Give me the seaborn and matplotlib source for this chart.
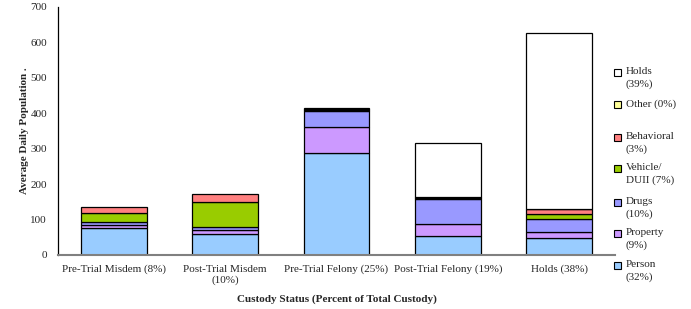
import numpy as np
import pandas as pd
import seaborn as sns
import matplotlib.pyplot as plt
from matplotlib.patches import Rectangle

sns.set_style('white')
plt.rcParams['font.family'] = ['Liberation Serif', 'DejaVu Serif']

# data
categories = ['Pre-Trial Misdem (8%)', 'Post-Trial Misdem\n(10%)', 'Pre-Trial Felony (25%)',
              'Post-Trial Felony (19%)', 'Holds (38%)']
person = [75, 59, 287, 54, 47]
prop = [10, 11, 75, 34, 17]
drugs = [9, 10, 45, 70, 37]
vehicle = [24, 71, 3, 2, 14]
behavioral = [17, 20, 3, 3, 15]
other = [0, 0, 1, 1, 1]
holds = [0, 0, 0, 152, 496]

series = ['Person', 'Property', 'Drugs', 'Vehicle', 'Behavioral', 'Other', 'Holds']
legend_labels = ['Person\n(32%)', 'Property\n(9%)', 'Drugs\n(10%)', 'Vehicle/\nDUII (7%)',
                 'Behavioral\n(3%)', 'Other (0%)', 'Holds\n(39%)']
colors = ['#99CCFF', '#CC99FF', '#9999FF', '#99CC00', '#FF8080', '#FFFF99', '#FFFFFF']

df = pd.DataFrame({'Status': categories, 'Person': person, 'Property': prop, 'Drugs': drugs,
                   'Vehicle': vehicle, 'Behavioral': behavioral, 'Other': other, 'Holds': holds})

fig = plt.figure(figsize=(6.91, 3.09), dpi=100)
ax = fig.add_axes([58/691, 1-255/309, 557/691, 248/309])

bottom = np.zeros(len(df))
for s, c in zip(series, colors):
    sub = df.copy()
    sub['bottom'] = bottom
    sub = sub[sub[s] > 0]
    sns.barplot(data=sub, x='Status', y=s, order=categories, color=c, width=0.59,
                edgecolor='black', linewidth=0.9, saturation=1, ax=ax,
                bottom=sub['bottom'].values)
    bottom = bottom + df[s].values

ax.set_ylim(0, 700)
ax.set_xlim(-0.5, 4.5)
ax.set_yticks(range(0, 701, 100))
ax.tick_params(axis='both', length=0, labelsize=8)
ax.tick_params(axis='y', pad=8)
ax.tick_params(axis='x', pad=7)
ax.set_ylabel('Average Daily Population .', fontsize=8, fontweight='bold', labelpad=1)
ax.set_xlabel('Custody Status (Percent of Total Custody)', fontsize=8, fontweight='bold', labelpad=7)
sns.despine(ax=ax)
ax.spines['left'].set_color('black')
ax.spines['left'].set_linewidth(0.9)
ax.spines['bottom'].set_color('#808080')
ax.spines['bottom'].set_linewidth(1.5)

# legend drawn by hand, Holds on top
ys = [265, 233, 202, 168, 137, 104, 72]
for lab, c, y in zip(legend_labels, colors, ys):
    fig.patches.append(Rectangle((614/691, 1-(y+4)/309), 7/691, 7/309, transform=fig.transFigure,
                                 facecolor=c, edgecolor='black', linewidth=0.8))
    fig.text(626/691, 1-(y-5)/309, lab, fontsize=8, va='top', ha='left', linespacing=1.45)

plt.savefig('out.png', dpi=100)
